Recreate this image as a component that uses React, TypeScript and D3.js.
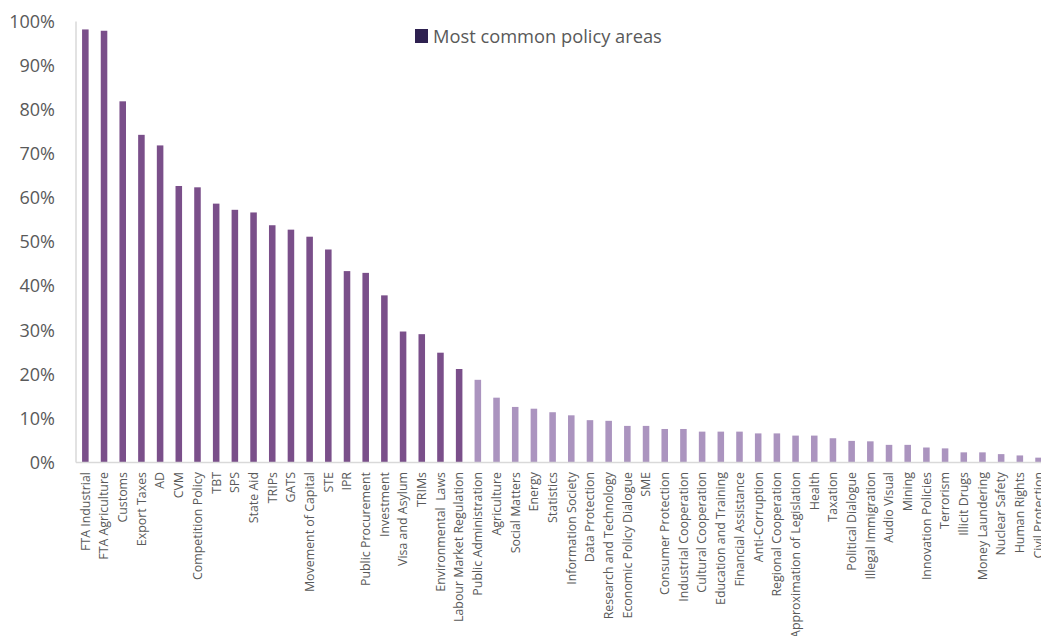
import React from "react";
import * as d3 from "d3";

const categories: string[] = [
  "FTA Industrial", "FTA Agriculture", "Customs", "Export Taxes", "AD", "CVM",
  "Competition Policy", "TBT", "SPS", "State Aid", "TRIPs", "GATS",
  "Movement of Capital", "STE", "IPR", "Public Procurement", "Investment",
  "Visa and Asylum", "TRIMs", "Environmental  Laws", "Labour Market Regulation",
  "Public Administration", "Agriculture", "Social Matters", "Energy", "Statistics",
  "Information Society", "Data Protection", "Research and Technology",
  "Economic Policy Dialogue", "SME", "Consumer Protection", "Industrial Cooperation",
  "Cultural Cooperation", "Education and Training", "Financial Assistance",
  "Anti-Corruption", "Regional Cooperation", "Approximation of Legislation", "Health",
  "Taxation", "Political Dialogue", "Illegal Immigration", "Audio Visual", "Mining",
  "Innovation Policies", "Terrorism", "Illicit Drugs", "Money Laundering",
  "Nuclear Safety", "Human Rights", "Civil Protection",
];

const values: number[] = [
  98.2, 97.9, 81.9, 74.3, 71.9, 62.7, 62.4, 58.7, 57.3, 56.7, 53.8, 52.8,
  51.2, 48.3, 43.4, 43.0, 37.9, 29.7, 29.1, 24.9, 21.2,
  18.75, 14.7, 12.6, 12.2, 11.4, 10.7, 9.6, 9.45, 8.3, 8.3, 7.6, 7.6,
  7.0, 7.0, 7.0, 6.6, 6.6, 6.1, 6.1, 5.5, 4.9, 4.8, 4.0, 4.0, 3.4, 3.2,
  2.3, 2.3, 1.9, 1.6, 1.1,
];

const mostCommonCount = 21;
const yTicks: number[] = [0, 10, 20, 30, 40, 50, 60, 70, 80, 90, 100];
const legendLabel = "Most common policy areas";

const W = 1041;
const H = 636;
const DARK = "#7a4f8a";
const LIGHT = "#ab94bf";
const TEXT = "#595959";
const AXIS = "#d9d9d9";
const FONT = "'Open Sans', sans-serif";

export default function App() {
  const x = d3
    .scaleBand<string>()
    .domain(categories)
    .range([76, 76 + 52 * 18.69])
    .paddingInner(0.65)
    .paddingOuter(0.325);
  const y = d3.scaleLinear().domain([0, 100]).range([462.5, 21.5]);
  const fmt = (v: number) => `${v}%`;

  return (
    <svg
      width={W}
      height={H}
      style={{ position: "absolute", left: 0, top: 0, background: "#fff" }}
      fontFamily={FONT}
    >
      {categories.map((c, i) => (
        <rect
          key={c}
          x={x(c)!}
          y={y(values[i])}
          width={x.bandwidth()}
          height={y(0) - y(values[i])}
          fill={i < mostCommonCount ? DARK : LIGHT}
        />
      ))}
      <line x1={76} x2={W} y1={y(0)} y2={y(0)} stroke={AXIS} strokeWidth={1.5} />
      <line x1={76} x2={76} y1={y(100)} y2={y(0)} stroke={AXIS} strokeWidth={1.5} />
      {yTicks.map((t) => (
        <text
          key={t}
          x={55}
          y={y(t)}
          dy="0.35em"
          textAnchor="end"
          fontSize={18}
          fill={TEXT}
        >
          {fmt(t)}
        </text>
      ))}
      {categories.map((c) => {
        const cx = x(c)! + x.bandwidth() / 2;
        return (
          <text
            key={c}
            transform={`translate(${cx},472) rotate(-90)`}
            dy="0.35em"
            textAnchor="end"
            fontSize={12.4}
            fill={TEXT}
            style={{ whiteSpace: "pre" }}
          >
            {c}
          </text>
        );
      })}
      <rect x={415} y={29} width={13} height={14} fill="#2e2150" />
      <text x={433} y={36.5} dy="0.35em" fontSize={18.3} fill={TEXT}>
        {legendLabel}
      </text>
    </svg>
  );
}
